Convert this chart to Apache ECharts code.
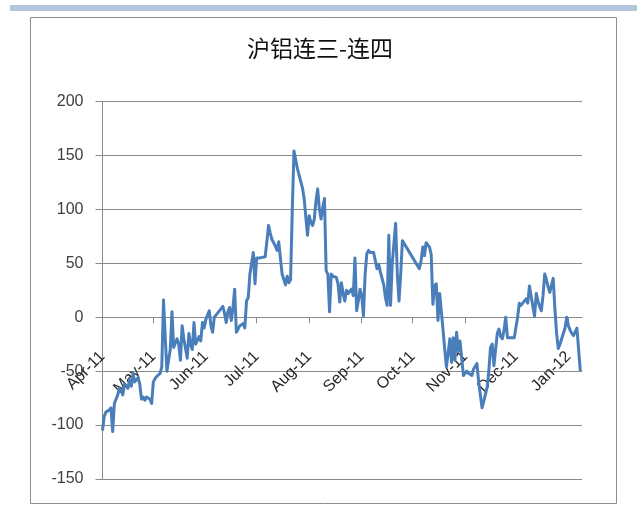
<!DOCTYPE html>
<html>
<head>
<meta charset="utf-8">
<script src="https://cdn.jsdelivr.net/npm/echarts@6/dist/echarts.min.js"></script>
<style>
html,body{margin:0;padding:0;background:#fff;}
#chart{width:637px;height:518px;}
</style>
</head>
<body>
<div id="chart"></div>
<script>
var titleText = '沪铝连三-连四';
var yTicks = [-150, -100, -50, 0, 50, 100, 150, 200];
var dates = [
'2011-04-01','2011-04-02','2011-04-03','2011-04-05','2011-04-06','2011-04-07','2011-04-08','2011-04-10','2011-04-11','2011-04-12',
'2011-04-13','2011-04-14','2011-04-16','2011-04-17','2011-04-18','2011-04-19','2011-04-20','2011-04-22','2011-04-23','2011-04-24',
'2011-04-25','2011-04-26','2011-04-27','2011-04-29','2011-04-30','2011-05-01','2011-05-02','2011-05-03','2011-05-05','2011-05-06',
'2011-05-07','2011-05-09','2011-05-10','2011-05-11','2011-05-12','2011-05-13','2011-05-15','2011-05-16','2011-05-17','2011-05-18',
'2011-05-19','2011-05-21','2011-05-22','2011-05-23','2011-05-24','2011-05-25','2011-05-26','2011-05-28','2011-05-29','2011-05-30',
'2011-05-31','2011-06-01','2011-06-03','2011-06-04','2011-06-05','2011-06-06','2011-06-07','2011-06-08','2011-06-10','2011-06-11',
'2011-06-12','2011-06-13','2011-06-14','2011-06-15','2011-06-16','2011-06-17','2011-06-18','2011-06-19','2011-06-20','2011-06-21',
'2011-06-23','2011-06-24','2011-06-25','2011-06-26','2011-06-27','2011-06-29','2011-06-30','2011-07-01','2011-07-02','2011-07-03',
'2011-07-04','2011-07-06','2011-07-07','2011-07-08','2011-07-09','2011-07-10','2011-07-12','2011-07-13','2011-07-14','2011-07-15',
'2011-07-16','2011-07-18','2011-07-19','2011-07-20','2011-07-21','2011-07-22','2011-07-23','2011-07-25','2011-07-26','2011-07-27',
'2011-07-28','2011-07-29','2011-07-31','2011-08-01','2011-08-02','2011-08-03','2011-08-04','2011-08-05','2011-08-06','2011-08-07',
'2011-08-08','2011-08-09','2011-08-10','2011-08-11','2011-08-12','2011-08-13','2011-08-14','2011-08-15','2011-08-17','2011-08-18',
'2011-08-19','2011-08-20','2011-08-21','2011-08-22','2011-08-23','2011-08-24','2011-08-26','2011-08-27','2011-08-28','2011-08-29',
'2011-08-30','2011-08-31','2011-09-01','2011-09-02','2011-09-03','2011-09-04','2011-09-05','2011-09-06','2011-09-08','2011-09-09',
'2011-09-10','2011-09-11','2011-09-12','2011-09-14','2011-09-15','2011-09-16','2011-09-17','2011-09-18','2011-09-19','2011-09-21',
'2011-09-22','2011-09-23','2011-09-24','2011-09-25','2011-10-05','2011-10-06','2011-10-07','2011-10-08','2011-10-09','2011-10-11',
'2011-10-12','2011-10-13','2011-10-14','2011-10-15','2011-10-16','2011-10-17','2011-10-19','2011-10-20','2011-10-21','2011-10-23',
'2011-10-24','2011-10-25','2011-10-26','2011-10-27','2011-10-28','2011-10-29','2011-10-31','2011-11-01','2011-11-02','2011-11-03',
'2011-11-05','2011-11-06','2011-11-08','2011-11-09','2011-11-11','2011-11-12','2011-11-14','2011-11-15','2011-11-16','2011-11-17',
'2011-11-18','2011-11-19','2011-11-20','2011-11-21','2011-11-22','2011-11-23','2011-11-24','2011-11-25','2011-11-26','2011-11-28',
'2011-11-29','2011-11-30','2011-12-02','2011-12-03','2011-12-04','2011-12-05','2011-12-07','2011-12-08','2011-12-09','2011-12-11',
'2011-12-12','2011-12-13','2011-12-14','2011-12-15','2011-12-16','2011-12-17','2011-12-18','2011-12-19','2011-12-20','2011-12-21',
'2011-12-23','2011-12-24','2011-12-25','2011-12-26','2011-12-27','2011-12-28','2011-12-30','2011-12-31','2012-01-01','2012-01-02',
'2012-01-03','2012-01-04','2012-01-06','2012-01-08'
];
var spread = [
-105,-92,-88,-86,-84,-106,-80,-72,-66,-68,
-72,-62,-66,-58,-64,-52,-60,-56,-62,-76,
-74,-77,-74,-76,-80,-60,-57,-55,-52,-46,
16,-50,-40,-30,5,-28,-20,-25,-40,-8,
-20,-38,-15,-25,-30,-5,-25,-18,-22,-5,
-10,-2,6,-8,-14,0,2,3,8,10,
4,-5,5,9,-3,9,26,-14,-11,-8,
-6,-10,15,18,40,60,31,55,55,55,
55,56,70,85,78,72,66,62,70,55,
40,30,38,32,35,99,154,138,132,126,
120,110,76,94,88,85,91,108,119,100,
91,102,110,43,40,5,40,38,37,31,
14,32,22,15,25,22,26,20,55,6,
15,26,20,1,40,59,62,60,60,60,
45,49,42,30,18,11,76,11,50,87,
40,15,40,71,45,52,65,57,69,65,
58,12,29,31,-3,22,-12,-30,-46,-20,
-42,-19,-40,-14,-31,-22,-54,-52,-50,-52,
-54,-48,-43,-60,-84,-78,-65,-50,-28,-25,
-45,-30,-15,-11,-18,-20,-12,0,-19,-19,
-19,-19,0,13,11,13,17,13,29,10,
1,22,15,10,6,20,40,35,28,23,
36,8,-15,-29,-25,-20,-10,0,-8,-12,
-15,-17,-10,-50
];

var seriesData = dates.map(function (d, i) { return [d, spread[i]]; });
var chart = echarts.init(document.getElementById('chart'), null, {renderer: 'canvas'});
var DAY = 86400000;
var gridColor = '#8a8a8a';
chart.setOption({
  animation: false,
  backgroundColor: '#ffffff',
  graphic: [
    {type: 'rect', shape: {x: 10, y: 5, width: 627, height: 6}, style: {fill: '#b3c6dc'}, silent: true},
    {type: 'rect', shape: {x: 30.5, y: 17.5, width: 586, height: 486}, style: {fill: 'none', stroke: '#8e8e8e', lineWidth: 1}, silent: true},
    {type: 'text', x: 320, y: 48, style: {text: titleText, font: '23px "Noto Sans CJK SC"', fill: '#111', align: 'center', verticalAlign: 'middle'}, silent: true}
  ],
  grid: {left: 102.5, right: 55, top: 101.5, bottom: 39, containLabel: false, outerBoundsMode: 'none'},
  xAxis: {
    type: 'time',
    min: '2011-04-01',
    max: '2012-01-09',
    splitNumber: 10,
    minInterval: 28 * DAY,
    maxInterval: 31 * DAY,
    axisLine: {show: true, onZero: true, lineStyle: {color: gridColor, width: 1}},
    axisTick: {show: true, length: 6, lineStyle: {color: gridColor}},
    splitLine: {show: false},
    axisLabel: {
      rotate: 45,
      margin: -125,
      formatter: '{MMM}-{yy}',
      fontFamily: '"Liberation Sans", Arial, sans-serif',
      fontSize: 16,
      color: '#262626',
      hideOverlap: false
    }
  },
  yAxis: {
    type: 'value',
    min: yTicks[0],
    max: yTicks[yTicks.length - 1],
    interval: 50,
    axisLine: {show: true, lineStyle: {color: gridColor, width: 1}},
    axisTick: {show: true, length: 7, lineStyle: {color: gridColor}},
    splitLine: {show: true, lineStyle: {color: gridColor, width: 1}},
    axisLabel: {
      margin: 19,
      fontFamily: '"Liberation Sans", Arial, sans-serif',
      fontSize: 16,
      color: '#404040'
    }
  },
  series: [{
    type: 'line',
    data: seriesData,
    showSymbol: false,
    symbol: 'none',
    lineStyle: {color: '#4a7ebb', width: 3, join: 'round'},
    itemStyle: {color: '#4a7ebb'}
  }]
});
</script>
</body>
</html>
